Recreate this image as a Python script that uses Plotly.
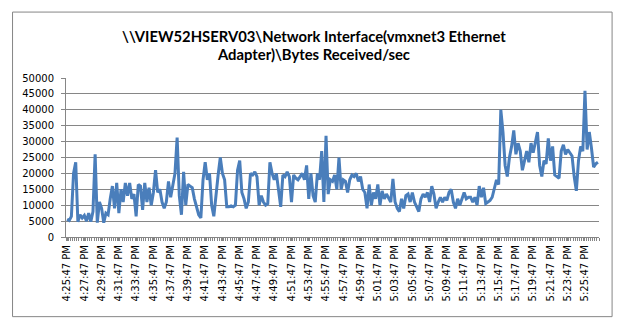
import datetime as dt
import plotly.graph_objects as go

# Performance counter samples, one every 15 seconds
start_time = dt.datetime(2013, 1, 1, 16, 25, 47)
sample_seconds = 15

bytes_received = [
    5600, 5200, 6500, 20000, 23500, 4800, 7000, 6000, 6800, 5000,
    7500, 4800, 8000, 26000, 4500, 11000, 9000, 4500, 7500, 7000,
    12000, 16000, 9000, 17000, 7500, 15000, 11000, 17000, 13000, 17000,
    12000, 13500, 6500, 16500, 16000, 8500, 17000, 11000, 15500, 10000,
    14000, 21000, 14000, 15000, 11000, 9000, 11000, 17500, 12500, 17000,
    20000, 31300, 13000, 7000, 20500, 10000, 16500, 16000, 15500, 12000,
    9500, 7000, 6000, 18000, 23500, 18000, 20000, 10000, 6500, 14000,
    19500, 25000, 20000, 18000, 9500, 9500, 9800, 9500, 10000, 21000,
    24000, 14000, 12000, 9000, 11000, 20000, 19500, 20500, 19000, 10000,
    13000, 11000, 10000, 10500, 23500, 20000, 18000, 20000, 14000, 9500,
    19500, 19000, 20500, 19000, 11000, 19500, 18500, 18000, 19000, 20000,
    18000, 22500, 12000, 20000, 13000, 11000, 20000, 18000, 27000, 11000,
    31800, 13500, 18000, 17500, 19500, 15000, 25000, 15000, 18000, 17500,
    14000, 18000, 19500, 19000, 20000, 17500, 19000, 15000, 14000, 9000,
    16500, 10000, 14000, 12000, 16500, 10000, 14500, 12000, 13500, 12000,
    11000, 18300, 11000, 9000, 8000, 12000, 9000, 13000, 13500, 11000,
    14000, 11000, 9500, 8000, 12000, 13500, 12500, 14000, 11000, 16000,
    13500, 9000, 11000, 12500, 11000, 12500, 11500, 14000, 15000, 11000,
    9000, 12000, 10000, 12000, 14000, 12000, 12500, 12500, 11000, 12500,
    10000, 16000, 12500, 15500, 10500, 11000, 11500, 12500, 15000, 18000,
    16500, 40000, 33000, 22500, 19000, 25000, 28500, 33500, 26000, 29500,
    27000, 21000, 24000, 27000, 23500, 29500, 26500, 29500, 33000, 22500,
    19000, 24000, 23000, 31000, 24000, 28500, 19500, 19000, 18500, 27000,
    29000, 26000, 27500, 26500, 25500, 19000, 14500, 24000, 28500, 27000,
    46000, 27500, 33000, 28000, 22000, 23000, 23500,
]

tick_labels = [
    "4:25:47 PM", "4:27:47 PM", "4:29:47 PM", "4:31:47 PM", "4:33:47 PM",
    "4:35:47 PM", "4:37:47 PM", "4:39:47 PM", "4:41:47 PM", "4:43:47 PM",
    "4:45:47 PM", "4:47:47 PM", "4:49:47 PM", "4:51:47 PM", "4:53:47 PM",
    "4:55:47 PM", "4:57:47 PM", "4:59:47 PM", "5:01:47 PM", "5:03:47 PM",
    "5:05:47 PM", "5:07:47 PM", "5:09:47 PM", "5:11:47 PM", "5:13:47 PM",
    "5:15:47 PM", "5:17:47 PM", "5:19:47 PM", "5:21:47 PM", "5:23:47 PM",
    "5:25:47 PM",
]

title_lines = [
    "\\\\VIEW52HSERV03\\Network Interface(vmxnet3 Ethernet",
    "Adapter)\\Bytes Received/sec",
]

times = [start_time + dt.timedelta(seconds=sample_seconds * i)
         for i in range(len(bytes_received))]
half = dt.timedelta(seconds=sample_seconds / 2)
label_every = 8
boundaries = [t - half for t in times] + [times[-1] + half]

GRID = "#868686"
LINE = "#4a7ebb"
TICK_FONT = dict(family="DejaVu Sans", size=10, color="#000000")
TITLE_FONT = dict(family="Lato", size=14.8, color="#000000", weight="bold")

fig = go.Figure(
    go.Scatter(
        x=times,
        y=bytes_received,
        mode="lines",
        line=dict(color=LINE, width=3),
        hoverinfo="x+y",
    )
)

W, H = 627, 330
L, R, T, B = 66, 27.6, 78.3, 93
pw = W - L - R
ph = H - T - B


def px_x(x):
    return (x - L) / pw


def px_y(y):
    return (H - B - y) / ph


fig.update_layout(
    width=W,
    height=H,
    margin=dict(l=L, r=R, t=T, b=B, pad=0),
    paper_bgcolor="white",
    plot_bgcolor="white",
    showlegend=False,
    xaxis=dict(
        type="date",
        range=[boundaries[0], boundaries[-1]],
        tickmode="array",
        tickvals=times[::label_every],
        ticktext=tick_labels,
        tickangle=-90,
        tickfont=TICK_FONT,
        ticks="outside",
        ticklen=3,
        tickcolor=GRID,
        showgrid=False,
        showline=True,
        linecolor=GRID,
        linewidth=1,
        zeroline=False,
        minor=dict(
            tickmode="array",
            tickvals=boundaries,
            ticks="outside",
            ticklen=3,
            tickcolor=GRID,
            showgrid=False,
        ),
    ),
    yaxis=dict(
        range=[0, 50000],
        dtick=5000,
        tick0=0,
        tickformat="d",
        tickfont=TICK_FONT,
        ticks="outside",
        ticklen=4,
        tickcolor=GRID,
        ticklabelstandoff=5,
        showgrid=True,
        gridcolor=GRID,
        gridwidth=1,
        showline=True,
        linecolor=GRID,
        linewidth=1,
        zeroline=False,
    ),
)

# Two-line chart title
for text, yc in zip(title_lines, [36, 54]):
    fig.add_annotation(
        text=text,
        xref="paper",
        yref="paper",
        x=px_x(314),
        y=px_y(yc),
        xanchor="center",
        yanchor="middle",
        showarrow=False,
        font=TITLE_FONT,
    )

# Chart-area border
fig.add_shape(
    type="rect",
    xref="paper",
    yref="paper",
    x0=px_x(12.5),
    x1=px_x(612.5),
    y0=px_y(316.5),
    y1=px_y(12.5),
    line=dict(color=GRID, width=1),
    fillcolor="rgba(0,0,0,0)",
    layer="below",
)

fig.write_html("out.html")
